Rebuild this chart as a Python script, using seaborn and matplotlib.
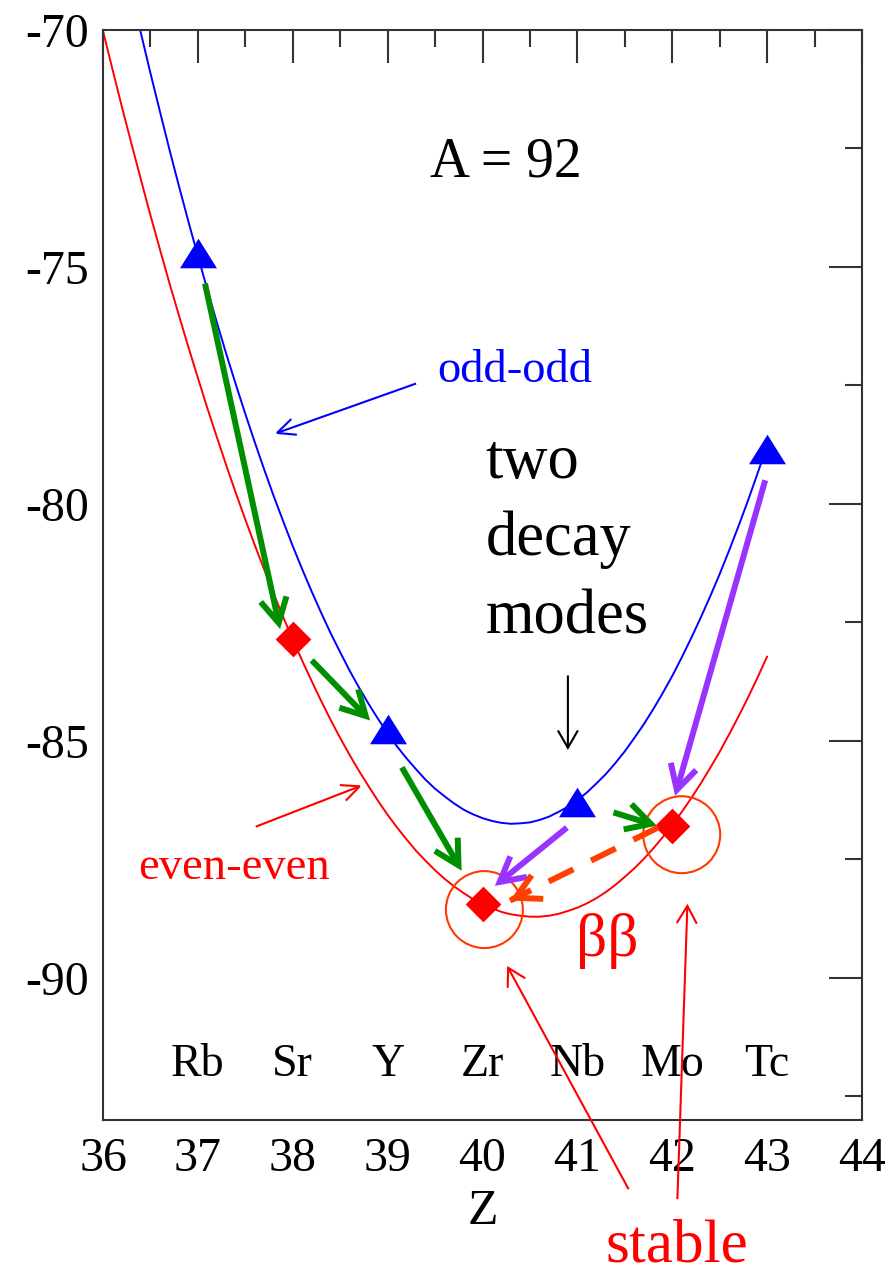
import matplotlib
matplotlib.use("Agg")
import matplotlib.pyplot as plt
from matplotlib.path import Path
from matplotlib.ticker import MultipleLocator
import seaborn as sns

# ---------------- data ----------------
element_z = [37, 38, 39, 40, 41, 42, 43]
element_sym = ["Rb", "Sr", "Y", "Zr", "Nb", "Mo", "Tc"]

odd_z = [37, 39, 41, 43]
odd_mass = [-74.70, -84.75, -86.30, -78.85]
even_z = [38, 40, 42]
even_mass = [-82.85, -88.45, -86.80]
stable_z = [40.02, 42.10]
stable_mass = [-88.56, -86.98]

curve_odd_z = [36.3, 36.4, 36.5, 36.6, 36.7, 36.8, 36.9, 37.0, 37.1, 37.2,
               37.3, 37.4, 37.5, 37.6, 37.7, 37.8, 37.9, 38.0, 38.1, 38.2,
               38.3, 38.4, 38.5, 38.6, 38.7, 38.8, 38.9, 39.0, 39.1, 39.2,
               39.3, 39.4, 39.5, 39.6, 39.7, 39.8, 39.9, 40.0, 40.1, 40.2,
               40.3, 40.4, 40.5, 40.6, 40.7, 40.8, 40.9, 41.0, 41.1, 41.2,
               41.3, 41.4, 41.5, 41.6, 41.7, 41.8, 41.9, 42.0, 42.1, 42.2,
               42.3, 42.4, 42.5, 42.6, 42.7, 42.8, 42.9, 43.0]
curve_odd_mass = [-69.21, -70.07, -70.91, -71.72, -72.52, -73.29, -74.04, -74.77,
                  -75.48, -76.17, -76.84, -77.48, -78.10, -78.70, -79.28, -79.84,
                  -80.37, -80.89, -81.38, -81.85, -82.30, -82.73, -83.13, -83.52,
                  -83.88, -84.22, -84.54, -84.84, -85.12, -85.37, -85.60, -85.82,
                  -86.01, -86.17, -86.32, -86.45, -86.55, -86.63, -86.69, -86.73,
                  -86.75, -86.74, -86.72, -86.67, -86.60, -86.50, -86.39, -86.25,
                  -86.09, -85.90, -85.70, -85.47, -85.22, -84.94, -84.65, -84.33,
                  -83.99, -83.63, -83.24, -82.83, -82.40, -81.95, -81.48, -80.98,
                  -80.46, -79.92, -79.35, -78.77]
curve_even_z = [36.0, 36.1, 36.2, 36.3, 36.4, 36.5, 36.6, 36.7, 36.8, 36.9,
                37.0, 37.1, 37.2, 37.3, 37.4, 37.5, 37.6, 37.7, 37.8, 37.9,
                38.0, 38.1, 38.2, 38.3, 38.4, 38.5, 38.6, 38.7, 38.8, 38.9,
                39.0, 39.1, 39.2, 39.3, 39.4, 39.5, 39.6, 39.7, 39.8, 39.9,
                40.0, 40.1, 40.2, 40.3, 40.4, 40.5, 40.6, 40.7, 40.8, 40.9,
                41.0, 41.1, 41.2, 41.3, 41.4, 41.5, 41.6, 41.7, 41.8, 41.9,
                42.0, 42.1, 42.2, 42.3, 42.4, 42.5, 42.6, 42.7, 42.8, 42.9, 43.0]
curve_even_mass = [-70.02, -70.83, -71.63, -72.40, -73.16, -73.91, -74.63, -75.34,
                   -76.02, -76.69, -77.34, -77.98, -78.59, -79.19, -79.77, -80.33,
                   -80.87, -81.39, -81.90, -82.39, -82.86, -83.31, -83.74, -84.16,
                   -84.56, -84.94, -85.30, -85.64, -85.96, -86.27, -86.56, -86.83,
                   -87.08, -87.32, -87.53, -87.73, -87.91, -88.07, -88.21, -88.34,
                   -88.45, -88.53, -88.61, -88.66, -88.69, -88.71, -88.71, -88.69,
                   -88.65, -88.59, -88.52, -88.43, -88.32, -88.19, -88.04, -87.87,
                   -87.69, -87.49, -87.27, -87.03, -86.78, -86.50, -86.21, -85.90,
                   -85.57, -85.23, -84.86, -84.48, -84.08, -83.66, -83.22]

x_ticks = [36, 37, 38, 39, 40, 41, 42, 43, 44]
y_ticks = [-70, -75, -80, -85, -90]

# decay arrows: (start Z, start mass, end Z, end mass)
green_arrows = [(37.075, -75.35, 37.866, -82.64),
                (38.20, -83.30, 38.815, -84.57),
                (39.15, -85.56, 39.78, -87.74),
                (41.38, -86.51, 41.837, -86.79)]
purple_arrows = [(42.98, -79.50, 42.03, -86.16),
                 (40.89, -86.83, 40.13, -88.06)]
bb_arrow = (41.85, -86.83, 40.29, -88.37)

# ---------------- style ----------------
sns.set_theme(style="white")
plt.rcParams["font.family"] = ["Liberation Serif", "DejaVu Serif"]
plt.rcParams["axes.unicode_minus"] = False

fig = plt.figure(figsize=(8.93, 12.75), dpi=100)
ax = fig.add_axes([103 / 893, 1 - 1120 / 1275, (862 - 103) / 893, (1120 - 30) / 1275])

frame_col = "#333333"
for s in ax.spines.values():
    s.set_color(frame_col)
    s.set_linewidth(1.5)

# curves
sns.lineplot(x=curve_even_z, y=curve_even_mass, color="#ff0000", lw=1.4, ax=ax,
             estimator=None, sort=False)
sns.lineplot(x=curve_odd_z, y=curve_odd_mass, color="#0000ff", lw=1.4, ax=ax,
             estimator=None, sort=False)

# markers
tri = Path([(0, 0.8), (-1, -0.8), (1, -0.8), (0, 0.8)],
           [Path.MOVETO, Path.LINETO, Path.LINETO, Path.CLOSEPOLY])
sns.scatterplot(x=odd_z, y=odd_mass, marker=tri, s=708, color="#0000ff",
                linewidth=0, ax=ax, zorder=5)
sns.scatterplot(x=even_z, y=even_mass, marker="D", s=330, color="#ff0000",
                linewidth=0, ax=ax, zorder=5)
sns.scatterplot(x=stable_z, y=stable_mass, marker="o", s=3070, facecolor="none",
                edgecolor="#ff3a00", linewidth=1.5, ax=ax, zorder=6)

# axes
ax.set_xlim(36, 44)
ax.set_ylim(-93, -70)
ax.set_xticks(x_ticks)
ax.set_yticks(y_ticks)
ax.set_xticklabels([str(v) for v in x_ticks])
ax.set_yticklabels([str(v) for v in y_ticks])
ax.xaxis.set_minor_locator(MultipleLocator(0.5))
ax.yaxis.set_minor_locator(MultipleLocator(2.5))
ax.tick_params(which="both", direction="in", top=True, right=True,
               color=frame_col, width=1.5)
ax.tick_params(which="major", length=24, labelsize=34.5, labelcolor="black")
ax.tick_params(axis="x", which="major", pad=12)
ax.tick_params(axis="y", which="major", pad=10)
ax.tick_params(which="minor", length=12.5)
ax.set_xlabel("Z", fontsize=36, color="black", labelpad=6)
ax.set_ylabel("")

# element symbols
for z, sym in zip(element_z, element_sym):
    ax.text(z, -92.07, sym, ha="center", va="baseline", fontsize=33, color="black")


def arrow(x0, y0, x1, y1, color, lw, hl, hw):
    ax.annotate("", xy=(x1, y1), xytext=(x0, y0), xycoords="data",
                textcoords="data", annotation_clip=False,
                arrowprops=dict(arrowstyle=f"->,head_length={hl},head_width={hw}",
                                mutation_scale=10, color=color, lw=lw,
                                shrinkA=0, shrinkB=0,
                                capstyle="butt", joinstyle="miter"),
                zorder=7)


for a in green_arrows:
    arrow(*a, color="#008f00", lw=4.3, hl=1.75, hw=0.95)
for a in purple_arrows:
    arrow(*a, color="#9933ff", lw=4.3, hl=1.75, hw=0.95)

# dashed beta-beta arrow: dashed shaft + solid head
x0, y0, x1, y1 = bb_arrow
ax.plot([x0, x1], [y0, y1], color="#ff4000", lw=4.3,
        dashes=(4.6, 3.3), solid_capstyle="butt", dash_capstyle="butt", zorder=7)
arrow(x1 + 0.02 * (x0 - x1), y1 + 0.02 * (y0 - y1), x1, y1,
      color="#ff4000", lw=4.3, hl=1.75, hw=0.95)

# thin label arrows
arrow(39.30, -77.46, 37.81, -78.52, color="#0000ff", lw=1.5, hl=1.3, hw=0.6)
arrow(37.61, -86.81, 38.73, -85.94, color="#ff0000", lw=1.5, hl=1.3, hw=0.6)
arrow(40.90, -83.62, 40.90, -85.19, color="black", lw=1.5, hl=1.25, hw=0.72)
arrow(41.54, -94.46, 40.26, -89.75, color="#ff0000", lw=1.5, hl=1.25, hw=0.72)
arrow(42.054, -94.67, 42.16, -88.44, color="#ff0000", lw=1.5, hl=1.25, hw=0.72)

# texts
ax.text(39.447, -73.10, "A = 92", fontsize=40, color="black", va="baseline", ha="left")
ax.text(39.52, -77.43, "odd-odd", fontsize=33.5, color="#0000ff", va="baseline", ha="left")
ax.text(36.37, -87.91, "even-even", fontsize=33.5, color="#ff0000", va="baseline", ha="left")
ax.text(40.03, -79.46, "two", fontsize=45, color="black", va="baseline", ha="left")
ax.text(40.03, -81.08, "decay", fontsize=45, color="black", va="baseline", ha="left")
ax.text(40.03, -82.73, "modes", fontsize=45, color="black", va="baseline", ha="left")
ax.text(41.31, -89.22, "ββ", fontsize=44, color="#ff0000", va="center", ha="center")
ax.text(42.045, -95.98, "stable", fontsize=44, color="#ff0000", va="baseline",
        ha="center", clip_on=False)

fig.savefig("out.png", dpi=100)
